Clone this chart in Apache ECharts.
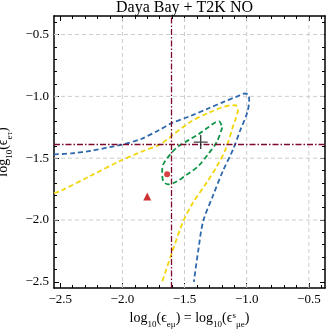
<!DOCTYPE html>
<html lang="en">
<head>
<meta charset="UTF-8">
<title>Daya Bay + T2K NO</title>
<style>
    html,body{
        margin: 0;
        padding: 0;
        background: #fff;
    }
    #chartmain{
        width: 327px;
        height: 331px;
    }
</style>
</head>
<body>
<div id="chartmain"></div>
<script src="https://cdn.jsdelivr.net/npm/echarts@6.0.0/dist/echarts.min.js"></script>
<script>
// tick values
var xMajor = [-2.5, -2.0, -1.5, -1.0, -0.5];
var xMinor = [-2.4, -2.3, -2.2, -2.1, -1.9, -1.8, -1.7, -1.6, -1.4, -1.3, -1.2, -1.1, -0.9, -0.8, -0.7, -0.6, -0.4];
var yMajor = [-2.5, -2.0, -1.5, -1.0, -0.5];
var yMinor = [-2.4, -2.3, -2.2, -2.1, -1.9, -1.8, -1.7, -1.6, -1.4, -1.3, -1.2, -1.1, -0.9, -0.8, -0.7, -0.6, -0.4];
// grid lines (only drawn at these)
var gridX = [-2.0, -1.5, -1.0, -0.5];
var gridY = [-2.0, -1.5, -1.0, -0.5];

// blue contour (open)
var blueX = [-2.55, -2.40, -2.25, -2.10, -2.00, -1.85, -1.70, -1.60, -1.45, -1.30, -1.18, -1.08, -1.015, -0.985, -0.98, -0.995, -1.05, -1.11, -1.19, -1.27, -1.35, -1.39, -1.425];
var blueY = [-1.47, -1.46, -1.44, -1.41, -1.39, -1.345, -1.27, -1.215, -1.158, -1.094, -1.042, -1.002, -0.977, -0.99, -1.03, -1.13, -1.27, -1.43, -1.60, -1.80, -2.01, -2.25, -2.50];

// yellow contour (open)
var yellowX = [-2.55, -2.50, -2.26, -2.02, -1.86, -1.70, -1.64, -1.46, -1.30, -1.14, -1.09, -1.07, -1.09, -1.11, -1.17, -1.24, -1.32, -1.43, -1.51, -1.60, -1.68];
var yellowY = [-1.78, -1.766, -1.645, -1.523, -1.453, -1.39, -1.348, -1.211, -1.13, -1.074, -1.072, -1.106, -1.187, -1.243, -1.429, -1.566, -1.695, -1.857, -2.01, -2.261, -2.50];

// green contour (closed)
var greenX = [-1.197, -1.238, -1.311, -1.391, -1.479, -1.575, -1.632, -1.671, -1.680, -1.671, -1.615, -1.551, -1.471, -1.391, -1.311, -1.254, -1.222, -1.197];
var greenY = [-1.251, -1.364, -1.469, -1.566, -1.631, -1.695, -1.712, -1.687, -1.607, -1.550, -1.469, -1.405, -1.356, -1.308, -1.251, -1.211, -1.203, -1.251];

// markers
var bestFit = [[-1.37, -1.37]];
var dotPt = [[-1.64, -1.63]];
var triPt = [[-1.80, -1.81]];

// reference lines
var refX = [-1.615];
var refY = [-1.39];

var serif = "'Liberation Serif', 'DejaVu Serif', serif";
var xMin = -2.55, xMax = -0.37, yMin = -2.55, yMax = -0.35;

function zip(xs, ys) {
    var out = [];
    for (var i = 0; i < xs.length; i++) out.push([xs[i], ys[i]]);
    return out;
}
function fmt(v) {
    return v.toFixed(1).replace('-', '\u2212');
}

var nameRich = {
    t: {fontSize: 14, fontFamily: serif, color: '#000', lineHeight: 16, verticalAlign: 'top'},
    s: {fontSize: 9, fontFamily: serif, color: '#000', lineHeight: 9, verticalAlign: 'top', padding: [9, 0, 0, 0]},
    p: {fontSize: 9, fontFamily: serif, color: '#000', lineHeight: 9, verticalAlign: 'top', padding: [0, 0, 0, 0]}
};

function makeX(pos, ticks, len, major, withLine) {
    return {
        type: 'value', position: pos, min: xMin, max: xMax,
        axisLine: {show: withLine, lineStyle: {color: '#000', width: 1.5}},
        axisTick: {show: true, inside: true, length: len, customValues: ticks, lineStyle: {color: '#000', width: 1}},
        axisLabel: (major && pos === 'bottom') ? {
            show: true, customValues: ticks, formatter: fmt, margin: 5,
            fontFamily: serif, fontSize: 13, color: '#000'
        } : {show: false},
        splitLine: {show: false}
    };
}
function makeY(pos, ticks, len, major, withLine) {
    return {
        type: 'value', position: pos, min: yMin, max: yMax,
        axisLine: {show: withLine, lineStyle: {color: '#000', width: 1.5}},
        axisTick: {show: true, inside: true, length: len, customValues: ticks, lineStyle: {color: '#000', width: 1}},
        axisLabel: (major && pos === 'left') ? {
            show: true, customValues: ticks, formatter: fmt, margin: 5,
            fontFamily: serif, fontSize: 13, color: '#000'
        } : {show: false},
        splitLine: {show: false}
    };
}

var xAxes = [
    makeX('bottom', xMajor, 5, true, true),
    makeX('bottom', xMinor, 3, false, false),
    makeX('top', xMajor, 5, true, true),
    makeX('top', xMinor, 3, false, false)
];
xAxes[0].name = '{t|log}{s|10}{t|(\u03f5}{s|e\u03bc}{t|) = log}{s|10}{t|(\u03f5}{p|s}{s|\u03bce}{t|)}';
xAxes[0].nameLocation = 'middle';
xAxes[0].nameGap = 21;
xAxes[0].nameTextStyle = {rich: nameRich};

var yAxes = [
    makeY('left', yMajor, 5, true, true),
    makeY('left', yMinor, 3, false, false),
    makeY('right', yMajor, 5, true, true),
    makeY('right', yMinor, 3, false, false)
];
yAxes[0].name = '{t|log}{s|10}{t|(\u03f5}{s|e\u03c4}{t|)}';
yAxes[0].nameLocation = 'middle';
yAxes[0].nameGap = 33;
yAxes[0].nameTextStyle = {rich: nameRich};

function curve(name, xs, ys, color) {
    return {
        name: name, type: 'line', data: zip(xs, ys), smooth: 0.3,
        showSymbol: false, symbol: 'none', z: 4,
        lineStyle: {color: color, width: 1.8, type: [5, 3]}
    };
}

// grid lines drawn as plain two-point lines from the tick arrays
function gridLines() {
    var out = [];
    gridX.forEach(function (v) {
        out.push({type: 'line', data: [[v, yMin], [v, yMax]], z: 1, silent: true, symbol: 'none',
            lineStyle: {color: '#cccccc', width: 1, type: [4, 3]}});
    });
    gridY.forEach(function (v) {
        out.push({type: 'line', data: [[xMin, v], [xMax, v]], z: 1, silent: true, symbol: 'none',
            lineStyle: {color: '#cccccc', width: 1, type: [4, 3]}});
    });
    return out;
}

var option = {
    animation: false,
    title: {
        text: 'Daya Bay + T2K NO', left: 116, top: 0, padding: 0,
        textStyle: {fontFamily: serif, fontSize: 16, fontWeight: 'normal', color: '#000'}
    },
    grid: {left: 54, right: 2, top: 16, bottom: 43, containLabel: false, outerBoundsMode: 'none'},
    xAxis: xAxes,
    yAxis: yAxes,
    series: gridLines().concat([
        {
            type: 'line', data: [], z: 3, silent: true,
            markLine: {
                silent: true, symbol: 'none', label: {show: false},
                lineStyle: {color: '#7b0a2a', width: 1.3, type: [6, 2, 1.5, 2]},
                data: refX.map(function (v) { return {xAxis: v}; })
                    .concat(refY.map(function (v) { return {yAxis: v}; }))
            }
        },
        curve('blue', blueX, blueY, '#2e68ad'),
        curve('yellow', yellowX, yellowY, '#f2d60c'),
        curve('green', greenX, greenY, '#119447'),
        {
            type: 'scatter', data: bestFit, z: 6,
            symbol: 'path://M5.4,0h1.2v5.4h5.4v1.2h-5.4v5.4h-1.2v-5.4h-5.4v-1.2h5.4z',
            symbolSize: 14, itemStyle: {color: '#111'}
        },
        {
            type: 'scatter', data: dotPt, z: 6, symbol: 'circle', symbolSize: 6,
            itemStyle: {color: '#cc1111'}
        },
        {
            type: 'scatter', data: triPt, z: 6, symbol: 'triangle', symbolSize: 8,
            itemStyle: {color: '#c00000'}
        }
    ])
};

var myChart = echarts.init(document.getElementById('chartmain'));
myChart.setOption(option);
</script>
</body>
</html>
